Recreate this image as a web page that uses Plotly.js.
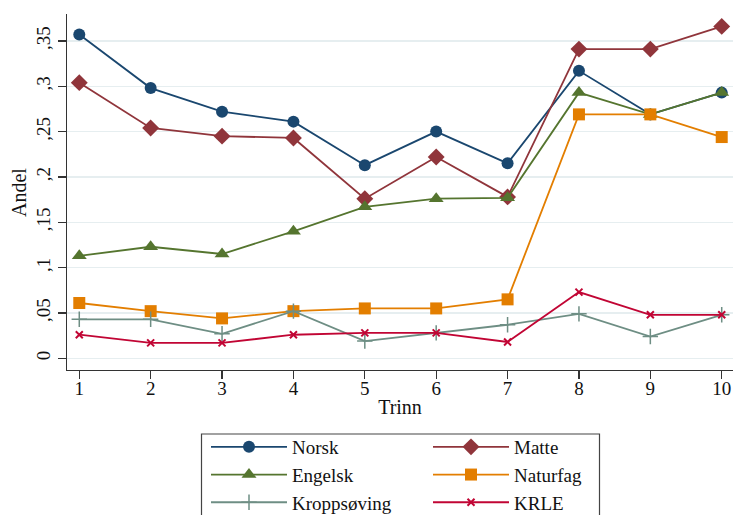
<!DOCTYPE html>
<html>
<head>
<meta charset="utf-8">
<script src="https://cdn.plot.ly/plotly-3.0.1.min.js"></script>
<style>html,body{margin:0;padding:0;background:#fff;}</style>
</head>
<body>
<div id="chart" style="width:733px;height:515px;"></div>
<script>
var trinn = [1, 2, 3, 4, 5, 6, 7, 8, 9, 10];
var norsk       = [0.357, 0.298, 0.272, 0.261, 0.213, 0.250, 0.215, 0.317, 0.269, 0.293];
var matte       = [0.304, 0.254, 0.245, 0.243, 0.176, 0.222, 0.178, 0.341, 0.341, 0.366];
var engelsk     = [0.113, 0.123, 0.115, 0.140, 0.167, 0.176, 0.177, 0.293, 0.269, 0.293];
var naturfag    = [0.061, 0.052, 0.044, 0.052, 0.055, 0.055, 0.065, 0.269, 0.269, 0.244];
var kroppsoving = [0.043, 0.043, 0.027, 0.052, 0.019, 0.028, 0.037, 0.049, 0.024, 0.048];
var krle        = [0.026, 0.017, 0.017, 0.026, 0.028, 0.028, 0.018, 0.073, 0.048, 0.048];
var yTickVals = [0, 0.05, 0.1, 0.15, 0.2, 0.25, 0.3, 0.35];
var yTickText = ['0', ',05', ',1', ',15', ',2', ',25', ',3', ',35'];
var xTitle = 'Trinn';
var yTitle = 'Andel';

var FONT = 'Liberation Serif, Times New Roman, serif';

function tr(name, y, color, symbol, size, mlw, legend) {
  return {
    x: trinn, y: y, name: name, type: 'scatter', mode: 'lines+markers',
    legend: legend, legendgroup: name,
    line: {color: color, width: 1.8},
    marker: {symbol: symbol, size: size, color: color, line: {color: color, width: mlw}}
  };
}

var data = [
  tr('Norsk', norsk, '#1a476f', 'circle', 12, 0, 'legend'),
  tr('Matte', matte, '#90353b', 'diamond', 13, 0, 'legend2'),
  tr('Engelsk', engelsk, '#55752f', 'triangle-up', 13, 0, 'legend'),
  tr('Naturfag', naturfag, '#e37e00', 'square', 12, 0, 'legend2'),
  tr('Kroppsøving', kroppsoving, '#6e8e84', 'cross-thin-open', 11, 1.5, 'legend'),
  tr('KRLE', krle, '#c10534', 'x-thin-open', 7, 2, 'legend2')
];

var legendCommon = {
  xref: 'container', yref: 'container', xanchor: 'left', yanchor: 'top',
  orientation: 'v', bgcolor: 'rgba(0,0,0,0)', borderwidth: 0,
  font: {family: FONT, size: 19, color: '#111'},
  itemwidth: 76, tracegroupgap: 0, itemclick: false
};

var layout = {
  width: 733, height: 515,
  margin: {l: 67, r: 0, t: 14, b: 145, autoexpand: false},
  paper_bgcolor: '#fff', plot_bgcolor: '#fff',
  font: {family: FONT, size: 19, color: '#111'},
  showlegend: true,
  legend: Object.assign({}, legendCommon, {x: 206/733, y: 1 - 428/515}),
  legend2: Object.assign({}, legendCommon, {x: 428/733, y: 1 - 428/515}),
  xaxis: {
    range: [0.828, 10.158], tickvals: trinn, ticktext: trinn.map(String),
    tickangle: 0, automargin: true, ticklabelstandoff: -7,
    showgrid: false, zeroline: false, showline: true, linecolor: '#333', linewidth: 1.3,
    ticks: 'outside', ticklen: 8, tickcolor: '#333', tickwidth: 1.3,
    tickfont: {family: FONT, size: 19, color: '#111'},
    title: {text: xTitle, font: {family: FONT, size: 20, color: '#111'}, standoff: 2}
  },
  yaxis: {
    range: [-0.0129, 0.3797], tickvals: yTickVals, ticktext: yTickText,
    tickangle: -90, automargin: false,
    showgrid: true, gridcolor: '#e6eef0', gridwidth: 1.3,
    zeroline: false, showline: true, linecolor: '#333', linewidth: 1.3,
    ticks: 'outside', ticklen: 8, tickcolor: '#333', tickwidth: 1.3,
    tickfont: {family: FONT, size: 19, color: '#111'}
  },
  annotations: [{
    text: yTitle, xref: 'paper', yref: 'paper',
    x: (19 - 67) / 666, y: (370 - 193) / 356,
    xanchor: 'center', yanchor: 'middle', textangle: -90, showarrow: false,
    font: {family: FONT, size: 20, color: '#111'}
  }],
  shapes: [{
    type: 'rect', xref: 'paper', yref: 'paper',
    x0: (201.5 - 67) / 666, x1: (599.5 - 67) / 666,
    y0: (370 - 434) / 356, y1: (370 - 540) / 356,
    line: {color: '#444', width: 1.2}, fillcolor: 'rgba(0,0,0,0)', layer: 'above'
  }]
};

Plotly.newPlot('chart', data, layout, {displayModeBar: false, staticPlot: true});
</script>
</body>
</html>
